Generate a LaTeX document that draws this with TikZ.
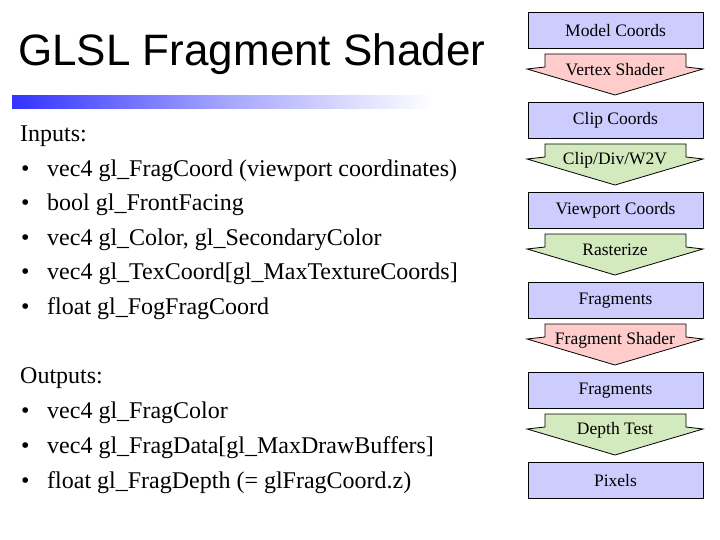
\documentclass[tikz,border=0pt]{standalone}
\usepackage{fontspec}
\setmainfont{Liberation Serif}
\newfontfamily\arialfont{Liberation Sans}
\definecolor{boxfill}{RGB}{204,204,255}
\definecolor{redfill}{RGB}{255,204,204}
\definecolor{greenfill}{RGB}{210,234,190}
\definecolor{barblue}{RGB}{51,51,255}
\newcommand{\flowarrow}[4]{%
  \draw[arrowshape, fill=#3] (545,#2) -- (686,#2) -- (686,#2+13) -- (703,#2+15) -- (615,#2+41) -- (527,#2+15) -- (545,#2+13) -- cycle;
  \node[arrowlabel] (#1) at (615,#2+16) {#4};}
\newcommand{\bulletline}[3]{%
  \node[bodytext] (#1b) at (21,#2) {•};
  \node[bodytext] (#1) at (47,#2) {#3};}
\begin{document}
\begin{tikzpicture}[x=1pt,y=-1pt,
  stagebox/.style={draw=black, line width=0.8pt, fill=boxfill, minimum width=175pt, minimum height=36.5pt, inner sep=0pt, font=\fontsize{17.5}{20}\selectfont},
  arrowshape/.style={draw=black, line width=0.8pt},
  arrowlabel/.style={inner sep=0pt, font=\fontsize{17.5}{20}\selectfont},
  bodytext/.style={anchor=base west, inner sep=0pt, font=\fontsize{24}{28}\selectfont}]
\useasboundingbox (0,0) rectangle (720,540);
\fill[white] (0,0) rectangle (720,540);
% title
\node[anchor=base west, inner sep=0pt, font=\arialfont\fontsize{44}{50}\selectfont] (title) at (18,66) {GLSL Fragment Shader};
% gradient bar
\shade[left color=barblue, right color=white, middle color=barblue!45] (12,96) rectangle (432,109);
% inputs
\node[bodytext] (inputs) at (20,142) {Inputs:};
\bulletline{in1}{177}{vec4 gl\_FragCoord (viewport coordinates)}
\bulletline{in2}{211}{bool gl\_FrontFacing}
\bulletline{in3}{245}{vec4 gl\_Color, gl\_SecondaryColor}
\bulletline{in4}{279.5}{vec4 gl\_TexCoord[gl\_MaxTextureCoords]}
\bulletline{in5}{314}{float gl\_FogFragCoord}
% outputs
\node[bodytext] (outputs) at (20,383) {Outputs:};
\bulletline{out1}{418}{vec4 gl\_FragColor}
\bulletline{out2}{453}{vec4 gl\_FragData[gl\_MaxDrawBuffers]}
\bulletline{out3}{488}{float gl\_FragDepth (= glFragCoord.z)}
% pipeline
\node[stagebox] (model) at (615.5,30.5) {Model Coords};
\flowarrow{vs}{54}{redfill}{Vertex Shader}
\node[stagebox] (clip) at (615.5,120.5) {Clip Coords};
\flowarrow{cdw}{144}{greenfill}{Clip/Div/W2V}
\node[stagebox] (viewport) at (615.5,210.5) {Viewport Coords};
\flowarrow{rast}{234}{greenfill}{Rasterize}
\node[stagebox] (frag1) at (615.5,300.5) {Fragments};
\flowarrow{fs}{324}{redfill}{Fragment Shader}
\node[stagebox] (frag2) at (615.5,390.5) {Fragments};
\flowarrow{dt}{414}{greenfill}{Depth Test}
\node[stagebox] (pixels) at (615.5,480.5) {Pixels};
\end{tikzpicture}
\end{document}
